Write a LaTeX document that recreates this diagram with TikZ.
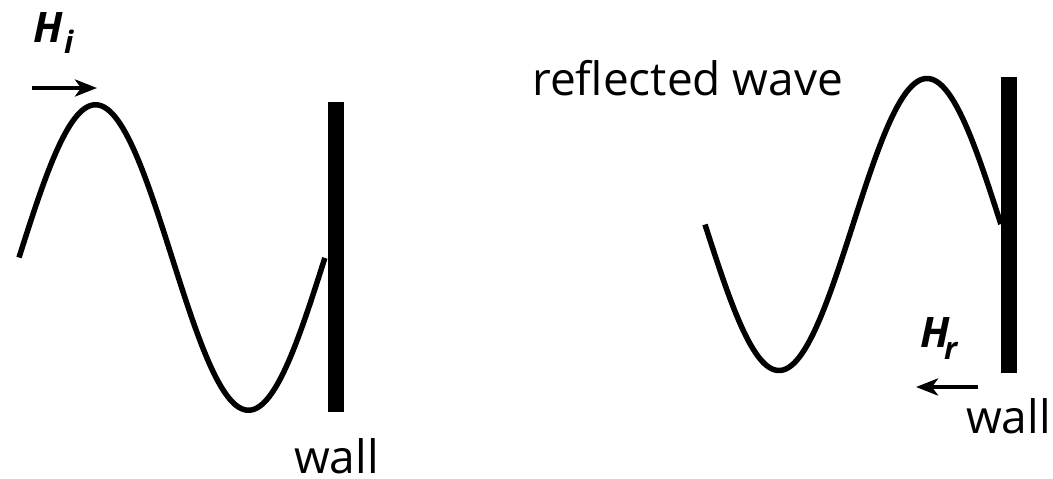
\documentclass[tikz,border=0pt]{standalone}
\usepackage{fontspec}
\newfontfamily\labelfont{Open Sans}
\usetikzlibrary{arrows.meta}
\tikzset{
  wavestyle/.style={line width=5.5pt, line cap=butt, black},
  wallbar/.style={fill=black, draw=none, inner sep=0pt, minimum width=16.5pt},
  dirarrow/.style={line width=4.5pt, -{Stealth[length=22pt,width=17pt,inset=6pt]}},
  plaintext/.style={inner sep=0pt, anchor=base west, font=\labelfont\fontsize{46}{50}\selectfont},
  hlabel/.style={inner sep=0pt, anchor=base west, font=\labelfont\bfseries\itshape\fontsize{42}{46}\selectfont},
  hsub/.style={inner sep=0pt, anchor=base west, font=\labelfont\bfseries\itshape\fontsize{31}{34}\selectfont}
}
\begin{document}
\begin{tikzpicture}[x=1pt,y=-1pt]
\useasboundingbox (0,0) rectangle (1053,479);
% left: incident wave
\draw[wavestyle] plot[domain=0:1, samples=160, smooth] ({19+306*\x}, {257.5 - 152.75*sin(360*\x)});
\node[wallbar, minimum height=310pt] (wallL) at (336, 257) {};
\node[plaintext] (wallLtext) at (294, 473) {wall};
\coordinate (hiS) at (32, 88);
\coordinate (hiE) at (97, 88);
\draw[dirarrow] (hiS) -- (hiE);
\node[hlabel] (Hi) at (33, 42) {H};
\node[hsub] (hisub) at (64, 53) {i};
% right: reflected wave
\draw[wavestyle] plot[domain=0:1, samples=160, smooth] ({705+296*\x}, {224.5 + 146*sin(360*\x)});
\node[wallbar, minimum height=296pt] (wallR) at (1009, 225) {};
\node[plaintext] (wallRtext) at (966, 433) {wall};
\node[plaintext] (refl) at (532, 95) {reflected wave};
\coordinate (hrS) at (978, 387);
\coordinate (hrE) at (916, 387);
\draw[dirarrow] (hrS) -- (hrE);
\node[hlabel] (Hr) at (920, 347) {H};
\node[hsub] (hrsub) at (944, 359) {r};
\end{tikzpicture}
\end{document}
